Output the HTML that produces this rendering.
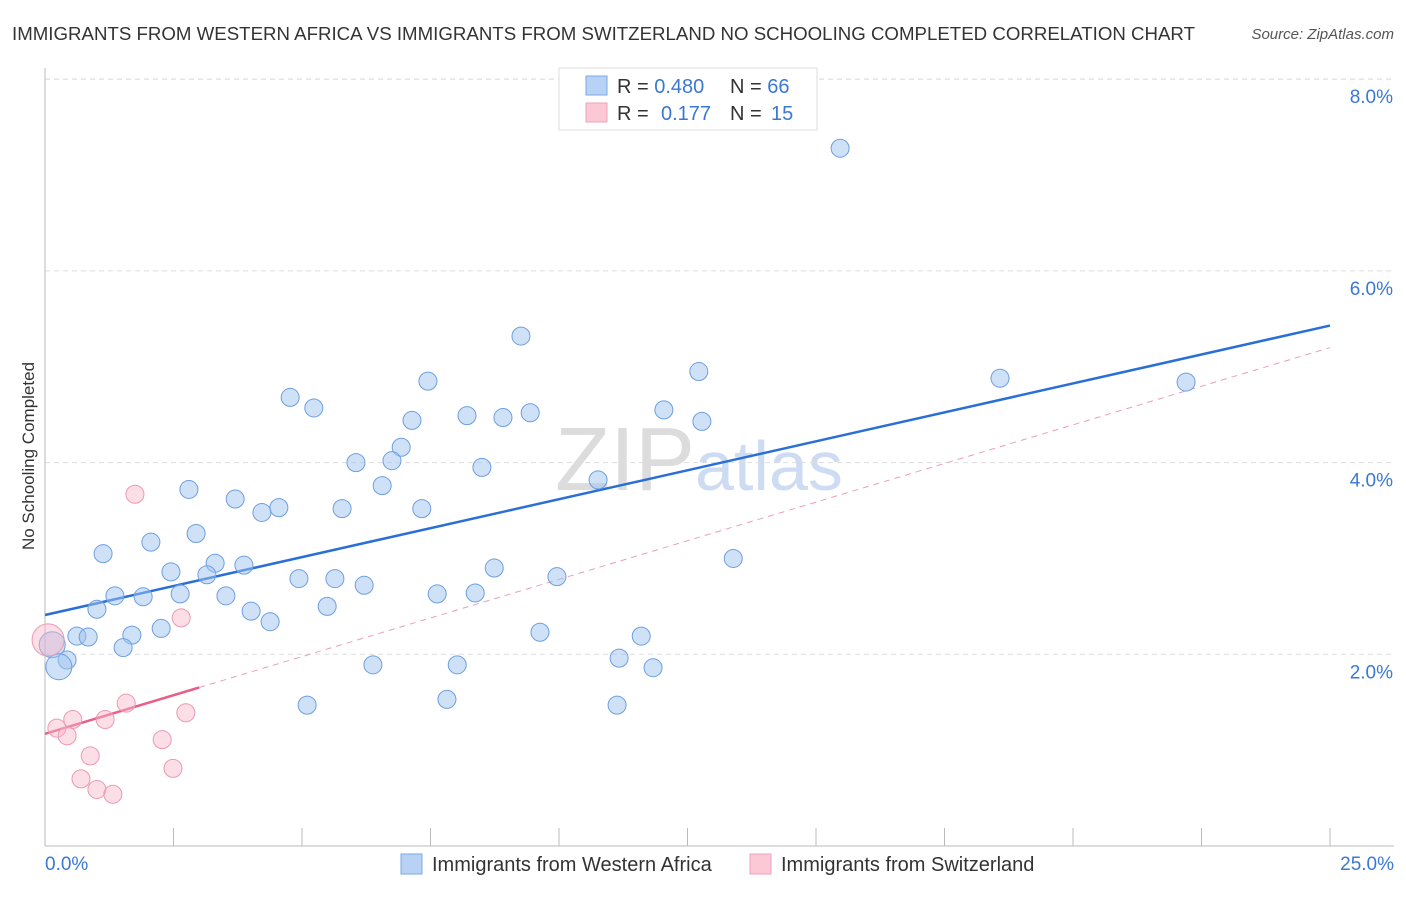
<!DOCTYPE html>
<html><head><meta charset="utf-8"><style>
body{margin:0;background:#fff;font-family:"Liberation Sans",sans-serif;}
svg text{font-family:"Liberation Sans",sans-serif;}
</style></head><body>
<svg id="chart" width="1406" height="892" xmlns="http://www.w3.org/2000/svg">
<text x="12" y="40" font-size="18" fill="#333" textLength="1183" lengthAdjust="spacingAndGlyphs">IMMIGRANTS FROM WESTERN AFRICA VS IMMIGRANTS FROM SWITZERLAND NO SCHOOLING COMPLETED CORRELATION CHART</text>
<text x="1394" y="39" font-size="15" fill="#555" text-anchor="end" font-style="italic">Source: ZipAtlas.com</text>
<text transform="translate(34,456) rotate(-90)" font-size="17" fill="#333" text-anchor="middle">No Schooling Completed</text>
<text x="555" y="490" font-size="90" fill="#dcdcdc" font-family="Liberation Serif">ZIP<tspan fill="#cddcf2" font-size="70" font-family="Liberation Sans">atlas</tspan></text>
<g id="grid"></g><g id="axes"></g><g id="lines"></g><g id="pts"></g>
<g>
<rect x="559" y="68" width="258" height="62" fill="#fff" stroke="#ddd"/>
<rect x="586" y="76" width="21" height="19" fill="#b8d2f5" stroke="#7aaae6"/>
<rect x="586" y="103" width="21" height="19" fill="#fcc8d6" stroke="#eea0b8"/>
<text x="617" y="93" font-size="20" fill="#333">R = <tspan fill="#3a78d4">0.480</tspan><tspan x="730">N = </tspan><tspan fill="#3a78d4">66</tspan></text>
<text x="617" y="120" font-size="20" fill="#333">R = <tspan x="661" fill="#3a78d4">0.177</tspan><tspan x="730">N = </tspan><tspan x="771" fill="#3a78d4">15</tspan></text>
</g>
<g>
<rect x="401" y="854" width="21" height="20" fill="#b8d2f5" stroke="#7aaae6"/>
<text x="432" y="871" font-size="20" fill="#333">Immigrants from Western Africa</text>
<rect x="750" y="854" width="21" height="20" fill="#fcc8d6" stroke="#eea0b8"/>
<text x="781" y="871" font-size="20" fill="#333">Immigrants from Switzerland</text>
</g>
</svg>
<script>
const blueX=[15.47,9.26,12.72,18.58,22.20,7.45,4.77,5.23,12.04,9.44,8.21,8.91,7.14,12.78,6.93,6.75,6.05,8.50,10.76,6.56,2.80,3.70,4.55,4.22,5.78,7.33,2.94,2.06,1.13,13.39,3.31,3.87,2.45,3.15,8.74,9.96,4.94,5.64,6.21,2.63,1.36,1.91,3.52,7.63,8.37,1.01,4.01,5.49,4.38,2.26,1.69,0.62,0.84,9.63,11.60,1.52,0.14,0.43,6.38,8.02,11.17,11.83,0.27,5.10,7.82,11.13];
const blueY=[7.28,5.32,4.95,4.88,4.84,4.85,4.68,4.57,4.55,4.52,4.49,4.47,4.44,4.43,4.16,4.02,4.00,3.95,3.82,3.76,3.72,3.62,3.53,3.48,3.52,3.52,3.26,3.17,3.05,3.00,2.95,2.93,2.86,2.83,2.90,2.81,2.79,2.79,2.72,2.63,2.61,2.60,2.61,2.63,2.64,2.47,2.45,2.50,2.34,2.27,2.20,2.19,2.18,2.23,2.19,2.07,2.10,1.94,1.89,1.89,1.96,1.86,1.87,1.47,1.53,1.47];
const blueBig=[56,62];
const pinkX=[1.75,2.65,1.58,2.74,0.54,1.17,0.23,0.43,2.28,0.88,0.70,1.01,1.32,2.49,0.06];
const pinkY=[3.67,2.38,1.49,1.39,1.32,1.32,1.23,1.15,1.11,0.94,0.70,0.59,0.54,0.81,2.15];
const pinkBig=[14];
const blueFit=[2.41,0.1208];
const pinkFit=[1.17,0.1612];
const xTicks=[0,2.5,5,7.5,10,12.5,15,17.5,20,22.5,25];
const yTicks=[2,4,6,8];
const yTickLabels=["2.0%","4.0%","6.0%","8.0%"];
const xLabels=["0.0%","25.0%"];

const NS="http://www.w3.org/2000/svg";
const X=v=>45+v*51.4, Y=v=>846-v*95.85;
function mk(parent,tag,attrs){const e=document.createElementNS(NS,tag);for(const k in attrs)e.setAttribute(k,attrs[k]);document.getElementById(parent).appendChild(e);return e;}
yTicks.forEach((t,i)=>{
 const g=mk('grid','line',{x1:45,x2:1394,y1:Y(t),y2:Y(t),stroke:'#ddd','stroke-dasharray':'5,4'});
 
 
 const l=mk('axes','text',{x:1393,y:Y(t)+24,'font-size':19,fill:'#3a78d4','text-anchor':'end'});
 l.textContent=yTickLabels[i];
 
 
});
const tg=mk('grid','line',{x1:45,x2:1394,y1:79,y2:79,stroke:'#ddd','stroke-dasharray':'5,4'});


const ya=mk('axes','line',{x1:45,x2:45,y1:68,y2:846,stroke:'#bbb'});


const xa=mk('axes','line',{x1:45,x2:1394,y1:846,y2:846,stroke:'#bbb'});


xTicks.forEach(t=>{
 const e=mk('axes','line',{x1:X(t),x2:X(t),y1:828,y2:846,stroke:'#bbb'});
 
 
});
const xl0=mk('axes','text',{x:45,y:870,'font-size':19,fill:'#3a78d4'});xl0.textContent=xLabels[0];


const xl1=mk('axes','text',{x:1394,y:870,'font-size':19,fill:'#3a78d4','text-anchor':'end'});xl1.textContent=xLabels[1];


blueX.forEach((x,i)=>{
 const c=mk('pts','circle',{cx:X(x),cy:Y(blueY[i]),r:blueBig.includes(i)?13:9,fill:'rgba(160,196,240,0.5)',stroke:'#6d9fe0','stroke-width':1});
 
 
});
pinkX.forEach((x,i)=>{
 const c=mk('pts','circle',{cx:X(x),cy:Y(pinkY[i]),r:pinkBig.includes(i)?16:9,fill:'rgba(248,182,202,0.45)',stroke:'#eb9ab2','stroke-width':1});
 
 
});
const bl=mk('lines','line',{x1:X(0),y1:Y(blueFit[0]),x2:X(25),y2:Y(blueFit[0]+25*blueFit[1]),stroke:'#2a6fd6','stroke-width':2.5});


const pl=mk('lines','line',{x1:X(0),y1:Y(pinkFit[0]),x2:X(3),y2:Y(pinkFit[0]+3*pinkFit[1]),stroke:'#e8608a','stroke-width':2.5});


const pd=mk('lines','line',{x1:X(3),y1:Y(pinkFit[0]+3*pinkFit[1]),x2:X(25),y2:Y(pinkFit[0]+25*pinkFit[1]),stroke:'#e8a0b8','stroke-width':1,'stroke-dasharray':'6,5'});


</script>
</body></html>
